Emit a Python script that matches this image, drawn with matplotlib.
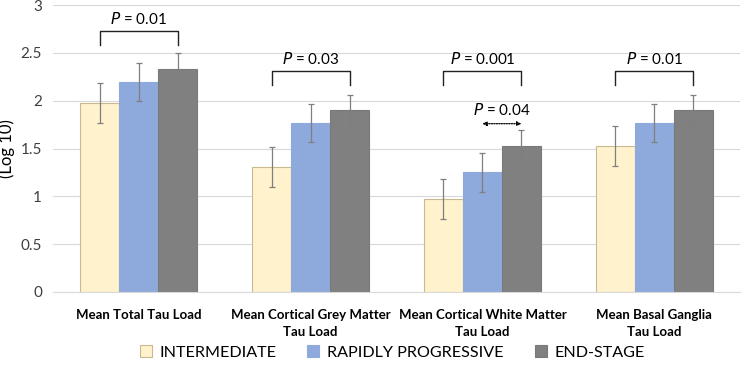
import matplotlib
matplotlib.use("Agg")
import matplotlib.pyplot as plt
import numpy as np

categories = ["Mean Total Tau Load", "Mean Cortical Grey Matter\nTau Load",
              "Mean Cortical White Matter\nTau Load", "Mean Basal Ganglia\nTau Load"]
series_names = ["INTERMEDIATE", "RAPIDLY PROGRESSIVE", "END-STAGE"]
intermediate = [1.98, 1.31, 0.97, 1.53]
intermediate_err = [0.21, 0.21, 0.21, 0.21]
rapid = [2.20, 1.77, 1.25, 1.77]
rapid_err = [0.20, 0.20, 0.20, 0.20]
endstage = [2.33, 1.90, 1.53, 1.90]
endstage_err = [0.165, 0.16, 0.16, 0.16]
bracket_labels = ["$P$ = 0.01", "$P$ = 0.03", "$P$ = 0.001", "$P$ = 0.01"]
bracket_tops = [2.73, 2.31, 2.31, 2.31]
yticks = [0, 0.5, 1, 1.5, 2, 2.5, 3]

plt.rcParams['font.family'] = ['Lato', 'DejaVu Sans']

fig = plt.figure(figsize=(7.5, 3.7), dpi=100)
ax = fig.add_axes([0.0707, 0.211, 0.916, 0.775])

x = np.arange(len(categories))
w = 0.227
colors = ["#FFF2CC", "#8EA9DB", "#808080"]
edges = ["#C9B98F", "#8EA9DB", "#7A7A7A"]
data = [intermediate, rapid, endstage]
errs = [intermediate_err, rapid_err, endstage_err]
for i in range(3):
    ax.bar(x + (i - 1) * w, data[i], w, color=colors[i], edgecolor=edges[i],
           linewidth=0.8, label=series_names[i], zorder=2,
           yerr=errs[i], error_kw=dict(ecolor="#7F7F7F", elinewidth=0.9, capsize=2, capthick=0.9))

# significance brackets
for i, (lab, top) in enumerate(zip(bracket_labels, bracket_tops)):
    x0, x1 = x[i] - w, x[i] + w
    ax.plot([x0, x0, x1, x1], [top - 0.15, top, top, top - 0.15], color="#222222", lw=1.0, zorder=3)
    ax.text(x[i], top + 0.04, lab, ha="center", va="bottom", fontsize=11)

# dotted arrow
ax.annotate("", xy=(x[2], 1.76), xytext=(x[2] + w, 1.76),
            arrowprops=dict(arrowstyle="<|-|>", linestyle=(0, (1, 1)), color="black", lw=0.9,
                            shrinkA=0, shrinkB=0, mutation_scale=6, fill=False))
ax.text(x[2] + w / 2, 1.82, "$P$ = 0.04", ha="center", va="bottom", fontsize=11)

ax.set_ylim(0, 3)
ax.set_xlim(-0.5, 3.5)
ax.set_yticks(yticks)
ax.set_yticklabels([f"{t:g}" for t in yticks], fontsize=11)
ax.set_xticks(x)
ax.set_xticklabels(categories, fontsize=9.5, fontweight="bold", linespacing=1.55)
ax.tick_params(axis="both", length=0, colors="#404040")
ax.tick_params(axis="y", pad=8)
ax.tick_params(axis="x", pad=12, colors="black")
ax.grid(axis="y", color="#D9D9D9", lw=0.8, zorder=0)
for s in ["top", "right", "left"]:
    ax.spines[s].set_visible(False)
ax.spines["bottom"].set_color("#D9D9D9")
ax.set_ylabel("(Log 10)", fontsize=12)
ax.yaxis.set_label_coords(-0.055, 0.5)

fig.legend(loc="lower center", bbox_to_anchor=(0.523, -0.012), ncol=3, frameon=False,
           fontsize=11.6, handlelength=0.75, handleheight=0.75, columnspacing=1.9, handletextpad=0.5)

fig.savefig("out.png", dpi=100)
